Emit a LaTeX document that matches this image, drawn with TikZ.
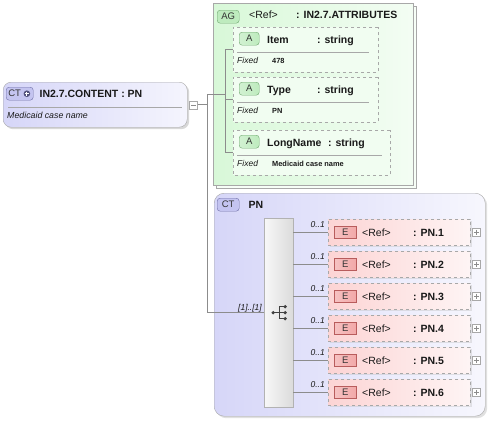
\documentclass[tikz,border=0pt]{standalone}
\usepackage{fontspec}
\setmainfont{Liberation Sans}
\usetikzlibrary{positioning,shapes.misc,shadows,calc}

\definecolor{ctfill}{HTML}{D6D6F8}
\definecolor{ctline}{HTML}{7070A8}
\definecolor{ctbadgefill}{HTML}{C4C4F0}
\definecolor{agfill}{HTML}{D8F8D8}
\definecolor{agline}{HTML}{70A870}
\definecolor{agbadgefill}{HTML}{BEEBBE}
\definecolor{efill}{HTML}{FCD4D4}
\definecolor{eline}{HTML}{B85C5C}
\definecolor{ebadgefill}{HTML}{F2A8A8}
\definecolor{boxline}{HTML}{A8A8A8}
\definecolor{linegray}{HTML}{8C8C8C}
\definecolor{iconfill}{HTML}{50507A}

\begin{document}
\begin{tikzpicture}[x=1pt, y=-1pt,
  conn/.style={draw=linegray, line width=0.6pt},
  sepline/.style={draw=boxline, line width=0.6pt},
  txt/.style={inner sep=0pt, anchor=base west, text=black!90},
  bold/.style={txt, font=\fontsize{10.5}{12}\selectfont\bfseries},
  reftxt/.style={txt, font=\fontsize{10.5}{12}\selectfont},
  doc/.style={txt, font=\fontsize{8.8}{10}\selectfont\itshape},
  fixed/.style={txt, font=\fontsize{8.5}{10}\selectfont\itshape},
  fixedval/.style={txt, font=\fontsize{7.4}{9}\selectfont\bfseries},
  card/.style={txt, anchor=base east, font=\fontsize{8.5}{10}\selectfont\itshape},
  badge/.style={draw, rounded corners=3pt, inner sep=0pt, minimum height=13pt,
    font=\fontsize{9.5}{10}\selectfont, text=black!80},
  ctbadge/.style={badge, draw=ctline, fill=ctbadgefill},
  agbadge/.style={badge, draw=agline, fill=agbadgefill},
  abadge/.style={badge, draw=agline, left color=agbadgefill!70, right color=agbadgefill,
    minimum width=20pt},
  ebadge/.style={draw=eline, left color=ebadgefill!70, right color=ebadgefill,
    inner sep=0pt, minimum width=22pt, minimum height=12pt,
    font=\fontsize{9.5}{10}\selectfont, text=black!80},
  rootbox/.style={draw=boxline, rounded corners=8pt, left color=ctfill, right color=ctfill!25,
    drop shadow={shadow xshift=2pt, shadow yshift=-2pt, fill=gray!60, opacity=0.5}},
  ctbox/.style={draw=boxline, rounded corners=10pt, left color=ctfill, right color=ctfill!20,
    drop shadow={shadow xshift=2pt, shadow yshift=-2pt, fill=gray!60, opacity=0.4}},
  agbox/.style={chamfered rectangle, chamfered rectangle corners={north east,south west},
    chamfered rectangle xsep=7pt, chamfered rectangle ysep=7pt, inner sep=0pt,
    draw=boxline, left color=agfill, right color=agfill!30,
    general shadow={shadow xshift=3pt, shadow yshift=-3pt, fill=agfill!20, draw=boxline}},
  attrbox/.style={chamfered rectangle, chamfered rectangle corners={north west,south west},
    chamfered rectangle xsep=4pt, chamfered rectangle ysep=4pt, inner sep=0pt,
    draw=boxline, dashed, fill=agfill!35},
  elbox/.style={draw=boxline, dashed, left color=efill, right color=efill!25,
    drop shadow={shadow xshift=1.5pt, shadow yshift=-1.5pt, fill=gray!50, opacity=0.4}},
  seqbox/.style={draw=gray!60, left color=gray!6, right color=gray!28},
  expander/.style={draw=boxline, fill=white, inner sep=0pt, minimum size=8pt},
  icon/.style={fill=black!75},
  iconline/.style={draw=black!75, line width=0.9pt}
]
\useasboundingbox (0,0) rectangle (489,421);

% root element
\node[rootbox, minimum width=184pt, minimum height=45pt, anchor=north west] (root) at (3,82) {};
\node[ctbadge, minimum width=27pt, anchor=north west] (rootbadge) at (6,87) {CT\hspace*{10pt}};
\coordinate (rooticon) at ($(rootbadge.east)+(-6.5,0)$);
\fill[iconfill] (rooticon) circle (3.3pt);
\draw[white, line width=1.1pt] ($(rooticon)+(-2,0)$) -- ($(rooticon)+(2,0)$)
  ($(rooticon)+(0,-2)$) -- ($(rooticon)+(0,2)$);
\node[bold, anchor=west, right=6pt of rootbadge] (roottitle) {IN2.7.CONTENT : PN};
\draw[sepline] (8,107) -- (182,107);
\node[doc] (rootdoc) at (7,118) {Medicaid case name};
\node[expander, right=2pt of root] (minus) {};
\draw[linegray] ($(minus.center)+(-2.5,0)$) -- ($(minus.center)+(2.5,0)$);

% attribute group
\node[agbox, minimum width=200pt, minimum height=182pt, anchor=north west] (ag) at (213,3) {};
\node[agbadge, minimum width=22pt, anchor=north west] (agbadge) at (217,10) {AG};
\node[reftxt] (agref) at (249,18) {<Ref>};
\node[bold] (agtype) at (296,18) {: IN2.7.ATTRIBUTES};

\node[attrbox, minimum width=145pt, minimum height=45pt, anchor=north west] (item) at (233,27) {};
\node[abadge, anchor=north west] (itembadge) at (239,32) {A};
\node[bold] (itemname) at (267,43) {Item};
\node[bold] (itemtype) at (317,43) {: string};
\draw[sepline] (237,52) -- (369,52);
\node[fixed] (itemfixed) at (237,63) {Fixed};
\node[fixedval] (itemval) at (272,63) {478};

\node[attrbox, minimum width=145pt, minimum height=45pt, anchor=north west] (type) at (233,77) {};
\node[abadge, anchor=north west] (typebadge) at (239,82) {A};
\node[bold] (typename) at (267,93) {Type};
\node[bold] (typetype) at (317,93) {: string};
\draw[sepline] (237,102) -- (369,102);
\node[fixed] (typefixed) at (237,113) {Fixed};
\node[fixedval] (typeval) at (272,113) {PN};

\node[attrbox, minimum width=157pt, minimum height=45pt, anchor=north west] (long) at (233,130) {};
\node[abadge, anchor=north west] (longbadge) at (239,135) {A};
\node[bold] (longname) at (267,146) {LongName};
\node[bold] (longtype) at (328,146) {: string};
\draw[sepline] (237,155) -- (382,155);
\node[fixed] (longfixed) at (237,166) {Fixed};
\node[fixedval] (longval) at (272,166) {Medicaid case name};

% content model
\node[ctbox, minimum width=271pt, minimum height=223pt, anchor=north west] (pn) at (214,193) {};
\node[ctbadge, minimum width=22pt, anchor=north west] (pnbadge) at (217,198) {CT};
\node[bold, anchor=west, right=9pt of pnbadge] (pntitle) {PN};

\node[seqbox, minimum width=29pt, minimum height=189pt, anchor=north west] (seq) at (264,218) {};
\fill[icon] ($(seq.center)+(-5.5,0)$) circle (1.8pt);
\draw[iconline] ($(seq.center)+(-5.5,0)$) -- ($(seq.center)+(0.5,0)$)
  ($(seq.center)+(0.5,-6)$) -- ($(seq.center)+(0.5,6)$);
\foreach \d in {-6,0,6}{
  \draw[iconline] ($(seq.center)+(0.5,\d)$) -- ($(seq.center)+(6.5,\d)$);
  \fill[icon] ($(seq.center)+(6.5,\d)$) circle (1.8pt);
}
\node[card] (seqcard) at (262,310) {[1]..[1]};

% connectors
\coordinate (trunk) at (207,94);
\coordinate (agbus) at (225,94);
\draw[conn] (minus.east) -- (minus.east -| trunk);
\draw[conn] (trunk) -- (trunk |- seq.west) -- (seq.west);
\draw[conn] (trunk) -- (agbus);
\draw[conn] (agbus |- item.west) -- (agbus |- long.west);
\draw[conn] (agbus |- item.west) -- (item.west);
\draw[conn] (agbus |- type.west) -- (type.west);
\draw[conn] (agbus |- long.west) -- (long.west);

% child elements
\foreach \k in {1,...,6}{
  \pgfmathsetmacro{\ey}{219+32*(\k-1)}
  \node[elbox, minimum width=142pt, minimum height=26pt, anchor=north west] (el\k) at (328,\ey) {};
  \node[ebadge, anchor=west] (eb\k) at ($(el\k.west)+(6,0)$) {E};
  \node[reftxt] (ref\k) at (362,\ey+17) {<Ref>};
  \node[bold] (name\k) at (413,\ey+17) {: PN.\k};
  \node[expander, right=2pt of el\k] (ex\k) {};
  \draw[linegray] ($(ex\k.center)+(-2.5,0)$) -- ($(ex\k.center)+(2.5,0)$)
    ($(ex\k.center)+(0,-2.5)$) -- ($(ex\k.center)+(0,2.5)$);
  \draw[conn] (seq.east |- el\k.west) -- (el\k.west);
  \node[card] (occ\k) at (325,\ey+8) {0..1};
}
\end{tikzpicture}
\end{document}
